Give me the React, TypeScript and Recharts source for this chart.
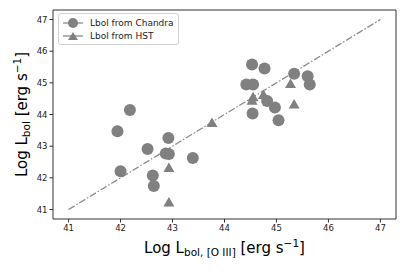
import React from "react";
import { ScatterChart, Scatter, XAxis, YAxis, ReferenceLine, ReferenceArea } from "recharts";

// values
const chandraX = [41.94, 42.18, 42.0, 42.52, 42.92, 42.87, 42.93, 42.62, 42.64, 43.39, 44.42, 44.55, 44.53, 44.77, 44.54, 44.82, 44.97, 45.04, 45.34, 45.6, 45.64];
const chandraY = [43.47, 44.14, 42.21, 42.91, 43.26, 42.77, 42.75, 42.07, 41.74, 42.63, 44.95, 44.95, 45.58, 45.45, 44.03, 44.43, 44.22, 43.82, 45.29, 45.21, 44.95];
const hstX = [42.93, 42.93, 43.76, 44.55, 44.53, 44.75, 45.27, 45.34];
const hstY = [42.33, 41.24, 43.75, 44.56, 44.45, 44.63, 44.98, 44.33];
const ticks = [41, 42, 43, 44, 45, 46, 47];
const oneToOne = [41, 47];

const chandra = chandraX.map((x, i) => ({ x, y: chandraY[i] }));
const hst = hstX.map((x, i) => ({ x, y: hstY[i] }));

const GREY = "#808080";
const FONT = "DejaVu Sans, sans-serif";

const Dot = (p: any) => <circle cx={p.cx} cy={p.cy} r={6} fill={GREY} />;
const Tri = (p: any) => (
  <polygon points={`${p.cx - 5.5},${p.cy + 4.5} ${p.cx + 5.5},${p.cy + 4.5} ${p.cx},${p.cy - 5}`} fill={GREY} />
);

const XLabel = (props: any) => {
  const vb = props.viewBox;
  return (
    <text x={vb.x + vb.width / 2} y={vb.y + 34} textAnchor="middle" fontSize={15} fontFamily={FONT} fill="#000">
      Log L
      <tspan fontSize={10.5} dy={3}>bol, [O III]</tspan>
      <tspan dy={-3}> [erg s</tspan>
      <tspan fontSize={10.5} dy={-6}>−1</tspan>
      <tspan dy={6}>]</tspan>
    </text>
  );
};

const YLabel = (props: any) => {
  const vb = props.viewBox;
  const cx = 27;
  const cy = vb.y + vb.height / 2;
  return (
    <text x={cx} y={cy} transform={`rotate(-90 ${cx} ${cy})`} textAnchor="middle" fontSize={15} fontFamily={FONT} fill="#000">
      Log L
      <tspan fontSize={10.5} dy={3}>bol</tspan>
      <tspan dy={-3}> [erg s</tspan>
      <tspan fontSize={10.5} dy={-6}>−1</tspan>
      <tspan dy={6}>]</tspan>
    </text>
  );
};

const tickStyle = { fontSize: 8.5, fontFamily: FONT, fill: "#222" };

const LegendBox = () => (
  <div
    style={{
      position: "absolute",
      left: 58,
      top: 13,
      width: 121,
      height: 32,
      border: "1px solid #d0d0d0",
      borderRadius: 3,
      background: "rgba(255,255,255,0.8)",
      fontFamily: FONT,
      fontSize: 9,
      boxSizing: "border-box",
    }}
  >
    <svg width={28} height={31} style={{ position: "absolute", left: 0, top: 0 }}>
      <line x1={4} x2={24} y1={9} y2={9} stroke={GREY} strokeWidth={1.2} />
      <circle cx={14} cy={9} r={5} fill={GREY} />
      <line x1={4} x2={24} y1={22} y2={22} stroke={GREY} strokeWidth={1.2} />
      <polygon points="9,26 19,26 14,18" fill={GREY} />
    </svg>
    <div style={{ position: "absolute", left: 31, top: 3, lineHeight: "12px", color: "#222" }}>Lbol from Chandra</div>
    <div style={{ position: "absolute", left: 31, top: 16, lineHeight: "12px", color: "#222" }}>Lbol from HST</div>
  </div>
);

export default function App() {
  return (
    <div style={{ position: "absolute", left: 0, top: 0, width: 407, height: 271, background: "#fff" }}>
      <ScatterChart width={407} height={271} margin={{ top: 10, right: 11, left: 0, bottom: 0 }}>
        <XAxis
          type="number"
          dataKey="x"
          domain={[40.7, 47.3]}
          ticks={ticks}
          allowDataOverflow
          axisLine={false}
          tickSize={3.5}
          tickLine={{ stroke: "#333" }}
          tick={tickStyle}
          height={52}
          label={<XLabel />}
        />
        <YAxis
          type="number"
          dataKey="y"
          domain={[40.7, 47.3]}
          ticks={ticks}
          allowDataOverflow
          axisLine={false}
          tickSize={3.5}
          tickLine={{ stroke: "#333" }}
          tick={tickStyle}
          width={53}
          label={<YLabel />}
        />
        <ReferenceArea x1={40.7} x2={47.3} y1={40.7} y2={47.3} fill="none" stroke="#333" strokeWidth={1} />
        <ReferenceLine
          segment={[
            { x: oneToOne[0], y: oneToOne[0] },
            { x: oneToOne[1], y: oneToOne[1] },
          ]}
          stroke="#8a8a8a"
          strokeWidth={1.3}
          strokeDasharray="7 2 1.5 2"
        />
        <Scatter name="Lbol from Chandra" data={chandra} shape={Dot} isAnimationActive={false} />
        <Scatter name="Lbol from HST" data={hst} shape={Tri} isAnimationActive={false} />
      </ScatterChart>
      <LegendBox />
    </div>
  );
}
